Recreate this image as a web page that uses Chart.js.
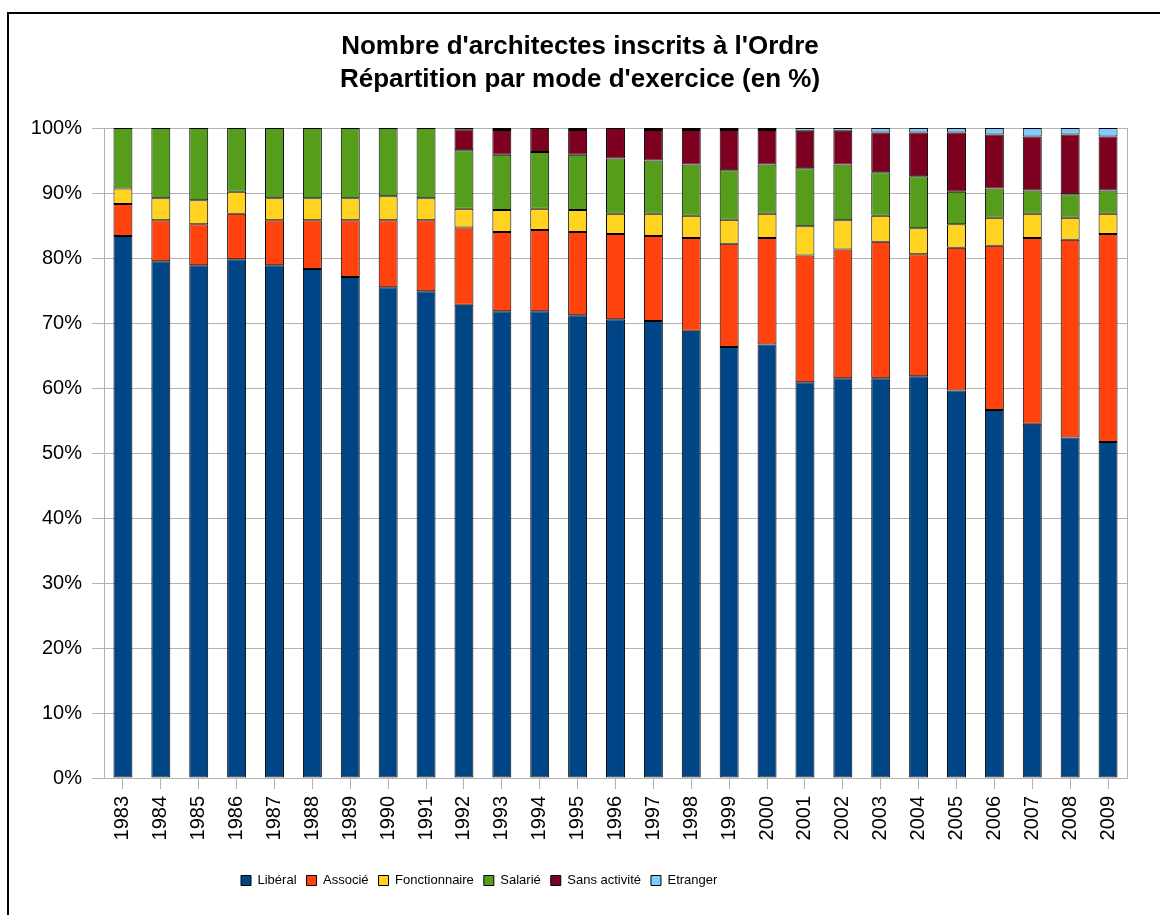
<!DOCTYPE html>
<html>
<head>
<meta charset="utf-8">
<script src="https://cdn.jsdelivr.net/npm/chart.js@4/dist/chart.umd.min.js"></script>
<style>
  html, body { margin: 0; padding: 0; background: #fff; }
  #wrap { position: relative; width: 1160px; height: 915px; }
  #frame { position: absolute; left: 7px; top: 12px; right: -10px; bottom: -10px;
           border-left: 2px solid #000; border-top: 2px solid #000; pointer-events: none; }
</style>
</head>
<body>
<div id="wrap">
  <canvas id="chart" width="1160" height="915"></canvas>
  <div id="frame"></div>
</div>
<script>
const years = ['1983','1984','1985','1986','1987','1988','1989','1990','1991','1992','1993','1994','1995','1996',
  '1997','1998','1999','2000','2001','2002','2003','2004','2005','2006','2007','2008','2009'];

const liberal = [83.4, 79.5, 78.9, 79.8, 78.9, 78.3, 77.1, 75.5, 74.9, 72.8, 71.8, 71.8, 71.2, 70.6,
  70.3, 68.8, 66.3, 66.7, 60.9, 61.5, 61.5, 61.8, 59.6, 56.6, 54.5, 52.4, 51.7];
const associe = [4.9, 6.3, 6.3, 7.0, 6.9, 7.5, 8.7, 10.3, 10.9, 11.9, 12.2, 12.5, 12.8, 13.1,
  13.1, 14.3, 15.9, 16.4, 19.5, 19.8, 21.0, 18.8, 22.0, 25.3, 28.6, 30.4, 32.0];
const fonctionnaire = [2.4, 3.4, 3.7, 3.4, 3.4, 3.4, 3.4, 3.7, 3.4, 2.9, 3.4, 3.3, 3.4, 3.1,
  3.4, 3.4, 3.7, 3.7, 4.5, 4.5, 4.0, 4.0, 3.6, 4.3, 3.7, 3.4, 3.1];
const salarie = [9.3, 10.8, 11.1, 9.8, 10.8, 10.8, 10.8, 10.5, 10.8, 9.0, 8.5, 8.7, 8.5, 8.5,
  8.2, 7.9, 7.6, 7.6, 8.9, 8.6, 6.7, 8.0, 5.0, 4.5, 3.6, 3.6, 3.6];
const sansActivite = [0, 0, 0, 0, 0, 0, 0, 0, 0, 3.2, 3.8, 3.7, 3.8, 4.7,
  4.7, 5.3, 6.2, 5.3, 5.8, 5.2, 6.1, 6.7, 9.1, 8.3, 8.3, 9.2, 8.3];
const etranger = [0, 0, 0, 0, 0, 0, 0, 0, 0, 0.2, 0.3, 0, 0.3, 0,
  0.3, 0.3, 0.3, 0.3, 0.4, 0.4, 0.7, 0.7, 0.7, 1.0, 1.3, 1.0, 1.3];

const seriesNames = ['Libéral', 'Associé', 'Fonctionnaire', 'Salarié', 'Sans activité', 'Etranger'];
const seriesColors = ['#004586', '#ff420e', '#ffd320', '#579d1c', '#7e0021', '#83caff'];
const seriesData = [liberal, associe, fonctionnaire, salarie, sansActivite, etranger];

Chart.defaults.font.family = "'Liberation Sans', Arial, sans-serif";
Chart.defaults.color = '#000';

// bord droit gris de la zone de tracé
const plotBorder = {
  id: 'plotBorder',
  afterDatasetsDraw(chart) {
    const { ctx, chartArea: a } = chart;
    ctx.save();
    ctx.strokeStyle = '#b3b3b3';
    ctx.lineWidth = 1;
    ctx.beginPath();
    ctx.moveTo(a.right + 0.5, a.top);
    ctx.lineTo(a.right + 0.5, a.bottom);
    ctx.stroke();
    ctx.restore();
  }
};

// titre centré sur toute la largeur, légende décalée à gauche
const blockShift = {
  id: 'blockShift',
  afterLayout(chart) {
    const t = chart.titleBlock;
    t.left = 0;
    t.right = chart.width;
    t.width = chart.width;
    const lg = chart.legend;
    const w = lg.right - lg.left;
    lg.left = 231;
    lg.right = 231 + w;
  }
};

new Chart(document.getElementById('chart'), {
  type: 'bar',
  data: {
    labels: years,
    datasets: seriesNames.map((name, i) => ({
      label: name,
      data: seriesData[i],
      backgroundColor: seriesColors[i],
      borderColor: '#000',
      borderWidth: 1,
      borderSkipped: false,
      barPercentage: 0.5,
      categoryPercentage: 1.0
    }))
  },
  options: {
    responsive: false,
    animation: false,
    layout: { padding: { left: 0, right: 33, top: 0, bottom: 18 } },
    plugins: {
      title: {
        display: true,
        text: ["Nombre d'architectes inscrits à l'Ordre", "Répartition par mode d'exercice (en %)"],
        font: { size: 26, weight: 'bold', lineHeight: 1.27 },
        padding: { top: 30.5, bottom: 31.5 },
        color: '#000'
      },
      legend: {
        position: 'bottom',
        align: 'start',
        labels: {
          boxWidth: 10,
          boxHeight: 10,
          padding: 10,
          font: { size: 13 },
          color: '#000'
        }
      },
      tooltip: { enabled: false }
    },
    scales: {
      x: {
        stacked: true,
        grid: {
          offset: false,
          drawOnChartArea: false,
          drawTicks: true,
          tickLength: 11,
          color: '#b3b3b3'
        },
        border: { color: '#b3b3b3' },
        ticks: {
          minRotation: 90,
          maxRotation: 90,
          padding: 7,
          font: { size: 20 },
          color: '#000'
        },
        afterFit: s => { s.height = 86; }
      },
      y: {
        stacked: true,
        min: 0,
        max: 100,
        grid: {
          color: '#b3b3b3',
          tickLength: 12
        },
        border: { color: '#b3b3b3' },
        ticks: {
          stepSize: 10,
          padding: 10,
          font: { size: 20 },
          color: '#000',
          callback: value => `${value}%`
        },
        afterFit: s => { s.width = 104; }
      }
    }
  },
  plugins: [plotBorder, blockShift]
});
</script>
</body>
</html>
